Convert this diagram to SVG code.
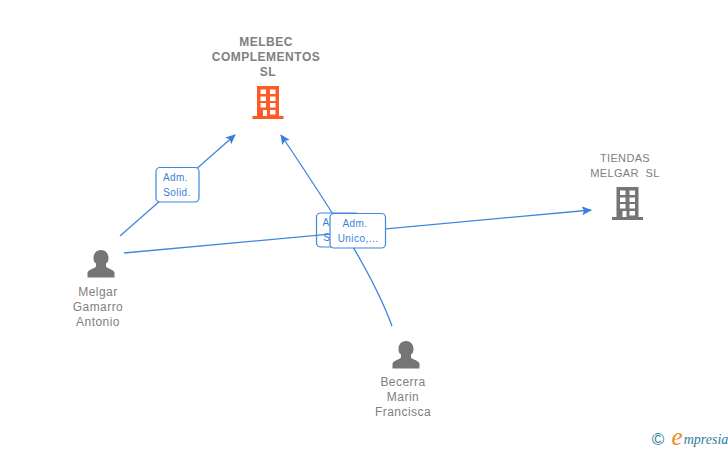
<svg xmlns="http://www.w3.org/2000/svg" width="728" height="450" viewBox="0 0 728 450">
<style>
text{font-family:"Liberation Sans",Arial,sans-serif;text-anchor:middle}
.n{font-size:12px;fill:#808080;letter-spacing:.45px}
.b{font-size:12px;fill:#808080;font-weight:bold;letter-spacing:.5px}
.t{font-size:11px;fill:#808080;letter-spacing:.35px}
.l{font-size:10px;fill:#3a7fdc;letter-spacing:.45px}
.c{fill:none;stroke:#3f86e0;stroke-width:1.3}
.box{fill:#fff;stroke:#3f86e0;stroke-width:1.2}
.win{fill:#fff}
</style>
<defs>
<marker id="a" markerUnits="userSpaceOnUse" markerWidth="11" markerHeight="10" refX="9" refY="4.500" orient="auto"><path d="M0 0L10 4.500L0 9L2 4.500Z" fill="#3a7fdc"/></marker>
<g id="bld">
<path d="M-11-17H11V13H15.500V16H-15.500V13H-11Z"/>
<g class="win"><rect x="-7.500" y="-13.500" width="5.500" height="4.500"/><rect x="2" y="-13.500" width="5.500" height="4.500"/><rect x="-7.500" y="-6.500" width="5.500" height="4.500"/><rect x="2" y="-6.500" width="5.500" height="4.500"/><rect x="-7.500" y="0" width="5.500" height="4.500"/><rect x="2" y="0" width="5.500" height="4.500"/><rect x="-5" y="7" width="4" height="6"/><rect x="2" y="7" width="5.500" height="4.500"/></g>
</g>
<path id="per" d="M0-14C-5-14-7.500-10-7.500-6C-7.500-3-6.500-1-5-.5V2.500C-5 4-12 5-13.500 8.500V13.500H13.500V8.500C12 5 5 4 5 2.500V-.5C6.500-1 7.500-3 7.500-6C7.500-10 5-14 0-14Z" fill="#757575"/>
</defs>
<g id="edge-label-2"><rect class="box" x="316.500" y="213" width="43" height="34" rx="4"/><text class="l" x="335" y="226">Adm.</text><text class="l" x="337" y="241">Solid.</text></g>
<g id="connectors">
<path class="c" d="M120 236L235 135" marker-end="url(#a)"/>
<path class="c" d="M124 253L591 210" marker-end="url(#a)"/>
<path class="c" d="M392 326C375 280 345 230 281 135" marker-end="url(#a)"/>
</g>
<g id="edge-label-1"><rect class="box" x="156" y="167.500" width="43" height="34.500" rx="4"/><text class="l" x="175.500" y="181">Adm.</text><text class="l" x="177" y="196">Solid.</text></g>
<g id="edge-label-3"><rect class="box" x="330" y="213.500" width="55.500" height="34.500" rx="4"/><text class="l" x="355" y="227">Adm.</text><text class="l" x="358" y="242">Unico,...</text></g>
<g id="node-melbec"><text class="b" x="266" y="46">MELBEC</text><text class="b" x="266" y="61">COMPLEMENTOS</text><text class="b" x="268" y="76">SL</text><use href="#bld" x="268" y="103" fill="#ff5a26"/></g>
<g id="node-tiendas"><text class="t" x="625" y="162">TIENDAS</text><text class="t" x="625" y="177" xml:space="preserve">MELGAR  SL</text><use href="#bld" x="627.500" y="204" fill="#757575"/></g>
<g id="node-melgar"><use href="#per" x="101" y="264"/><text class="n" x="98" y="296">Melgar</text><text class="n" x="98" y="311">Gamarro</text><text class="n" x="98" y="326">Antonio</text></g>
<g id="node-becerra"><use href="#per" x="406" y="355"/><text class="n" x="403" y="386">Becerra</text><text class="n" x="403" y="401">Marin</text><text class="n" x="403" y="416">Francisca</text></g>
<g id="logo"><text x="658" y="445" style="font-size:17px;fill:#2e7d9a">©</text><text x="677" y="445" style="font-size:25px;fill:#f08a1d;font-style:italic;font-family:'Liberation Serif',serif">e</text><text x="706" y="444" style="font-size:14px;fill:#2e7d9a;font-style:italic;font-family:'Liberation Serif',serif">mpresia</text></g>
</svg>
